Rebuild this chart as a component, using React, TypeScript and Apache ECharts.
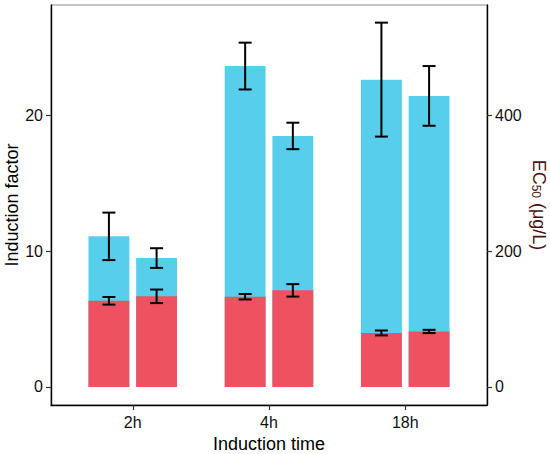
import React, { useEffect, useRef } from "react";
import * as echarts from "echarts";

const categories = ["2h", "4h", "18h"];
// Blue bars: EC50 (μg/L), right axis
const ec50Group1 = [222, 473, 453];
const ec50Group1Err = [35, 34.5, 84];
const ec50Group2 = [190, 370, 429];
const ec50Group2Err = [14.5, 19.5, 44];
// Red bars: induction factor, left axis
const indGroup1 = [6.35, 6.65, 3.98];
const indGroup1Err = [0.28, 0.2, 0.18];
const indGroup2 = [6.68, 7.12, 4.09];
const indGroup2Err = [0.5, 0.46, 0.12];
const leftTicks = [0, 10, 20];
const rightTicks = [0, 200, 400];

const BLUE = "#57CEEB";
const RED = "#EE5261";
const FONT = "'Liberation Sans', Arial, sans-serif";
const DODGE = 0.175;
const BAR_W = 0.3;

function barData(vals: number[], offset: number) {
  return vals.map((v, i) => [i + 1 + offset, v]);
}
function errData(vals: number[], errs: number[], offset: number) {
  return vals.map((v, i) => [i + 1 + offset, v - errs[i], v + errs[i]]);
}

const barRender = (color: string) => (params: any, api: any) => {
  const x = api.value(0);
  const y = api.value(1);
  const p1 = api.coord([x - BAR_W / 2, y]);
  const p2 = api.coord([x + BAR_W / 2, 0]);
  return {
    type: "rect",
    shape: { x: p1[0], y: p1[1], width: p2[0] - p1[0], height: p2[1] - p1[1] },
    style: { fill: color },
  };
};

const errRender = (params: any, api: any) => {
  const x = api.value(0);
  const lo = api.coord([x, api.value(1)]);
  const hi = api.coord([x, api.value(2)]);
  const hw = 6.5;
  const style = { stroke: "#000", lineWidth: 2, fill: "none" };
  return {
    type: "group",
    children: [
      { type: "line", shape: { x1: lo[0], y1: lo[1], x2: hi[0], y2: hi[1] }, style },
      { type: "line", shape: { x1: lo[0] - hw, y1: lo[1], x2: lo[0] + hw, y2: lo[1] }, style },
      { type: "line", shape: { x1: hi[0] - hw, y1: hi[1], x2: hi[0] + hw, y2: hi[1] }, style },
    ],
  };
};

export default function App() {
  const ref = useRef<HTMLDivElement>(null);
  useEffect(() => {
    if (!ref.current) return;
    const chart = echarts.init(ref.current, undefined, { renderer: "svg" });
    const axisLabelBase = { color: "#111", fontSize: 16, fontFamily: FONT };
    chart.setOption({
      animation: false,
      backgroundColor: "#fff",
      grid: {
        left: 51,
        right: 63,
        top: 5,
        bottom: 49,
        containLabel: false,
        outerBoundsMode: "none",
        show: true,
        borderColor: "#8a8a8a",
        borderWidth: 1,
        backgroundColor: "transparent",
      },
      xAxis: {
        type: "value",
        min: 0.4,
        max: 3.6,
        name: "Induction time",
        nameLocation: "middle",
        nameGap: 30,
        nameMoveOverlap: false,
        nameTextStyle: { fontSize: 18, color: "#000", fontFamily: FONT },
        axisLine: { show: true, onZero: false, lineStyle: { color: "#000", width: 1.4 } },
        axisTick: { show: true, customValues: [1, 2, 3], length: 5, lineStyle: { color: "#333", width: 1.2 } },
        axisLabel: {
          ...axisLabelBase,
          customValues: [1, 2, 3],
          margin: 9,
          formatter: (v: number) => categories[Math.round(v) - 1] ?? "",
        },
        splitLine: { show: false },
      },
      yAxis: [
        {
          type: "value",
          min: -1.33,
          max: 28.15,
          position: "left",
          name: "Induction factor",
          nameLocation: "middle",
          nameGap: 30,
          nameMoveOverlap: false,
          nameTextStyle: { fontSize: 18, color: "#000", fontFamily: FONT },
          axisLine: { show: true, onZero: false, lineStyle: { color: "#000", width: 1.4 } },
          axisTick: { show: true, customValues: leftTicks, length: 5, lineStyle: { color: "#333", width: 1.2 } },
          axisLabel: { ...axisLabelBase, customValues: leftTicks, margin: 8 },
          splitLine: { show: false },
        },
        {
          type: "value",
          min: -26.6,
          max: 563,
          position: "right",
          name: "{a|EC}{b|50}{a| (μg/L)}",
          nameLocation: "middle",
          nameRotate: -90,
          nameGap: 43,
          nameMoveOverlap: false,
          nameTextStyle: {
            fontFamily: FONT,
            rich: {
              a: { fontSize: 18, color: "#4a1515", fontFamily: FONT, verticalAlign: "bottom", lineHeight: 22 },
              b: { fontSize: 12, color: "#4a1515", fontFamily: FONT, verticalAlign: "bottom", lineHeight: 16 },
            },
          },
          axisLine: { show: true, onZero: false, lineStyle: { color: "#000", width: 1.4 } },
          axisTick: { show: true, customValues: rightTicks, length: 5, lineStyle: { color: "#333", width: 1.2 } },
          axisLabel: { ...axisLabelBase, customValues: rightTicks, margin: 8 },
          splitLine: { show: false },
        },
      ],
      series: [
        { type: "custom", yAxisIndex: 1, renderItem: barRender(BLUE), data: barData(ec50Group1, -DODGE), z: 1 },
        { type: "custom", yAxisIndex: 1, renderItem: barRender(BLUE), data: barData(ec50Group2, DODGE), z: 1 },
        { type: "custom", yAxisIndex: 0, renderItem: barRender(RED), data: barData(indGroup1, -DODGE), z: 2 },
        { type: "custom", yAxisIndex: 0, renderItem: barRender(RED), data: barData(indGroup2, DODGE), z: 2 },
        { type: "custom", yAxisIndex: 1, renderItem: errRender, data: errData(ec50Group1, ec50Group1Err, -DODGE), z: 3 },
        { type: "custom", yAxisIndex: 1, renderItem: errRender, data: errData(ec50Group2, ec50Group2Err, DODGE), z: 3 },
        { type: "custom", yAxisIndex: 0, renderItem: errRender, data: errData(indGroup1, indGroup1Err, -DODGE), z: 3 },
        { type: "custom", yAxisIndex: 0, renderItem: errRender, data: errData(indGroup2, indGroup2Err, DODGE), z: 3 },
      ],
    });
    return () => chart.dispose();
  }, []);
  return (
    <div
      ref={ref}
      style={{ position: "fixed", left: 0, top: 0, width: 550, height: 454, background: "#fff" }}
    />
  );
}
